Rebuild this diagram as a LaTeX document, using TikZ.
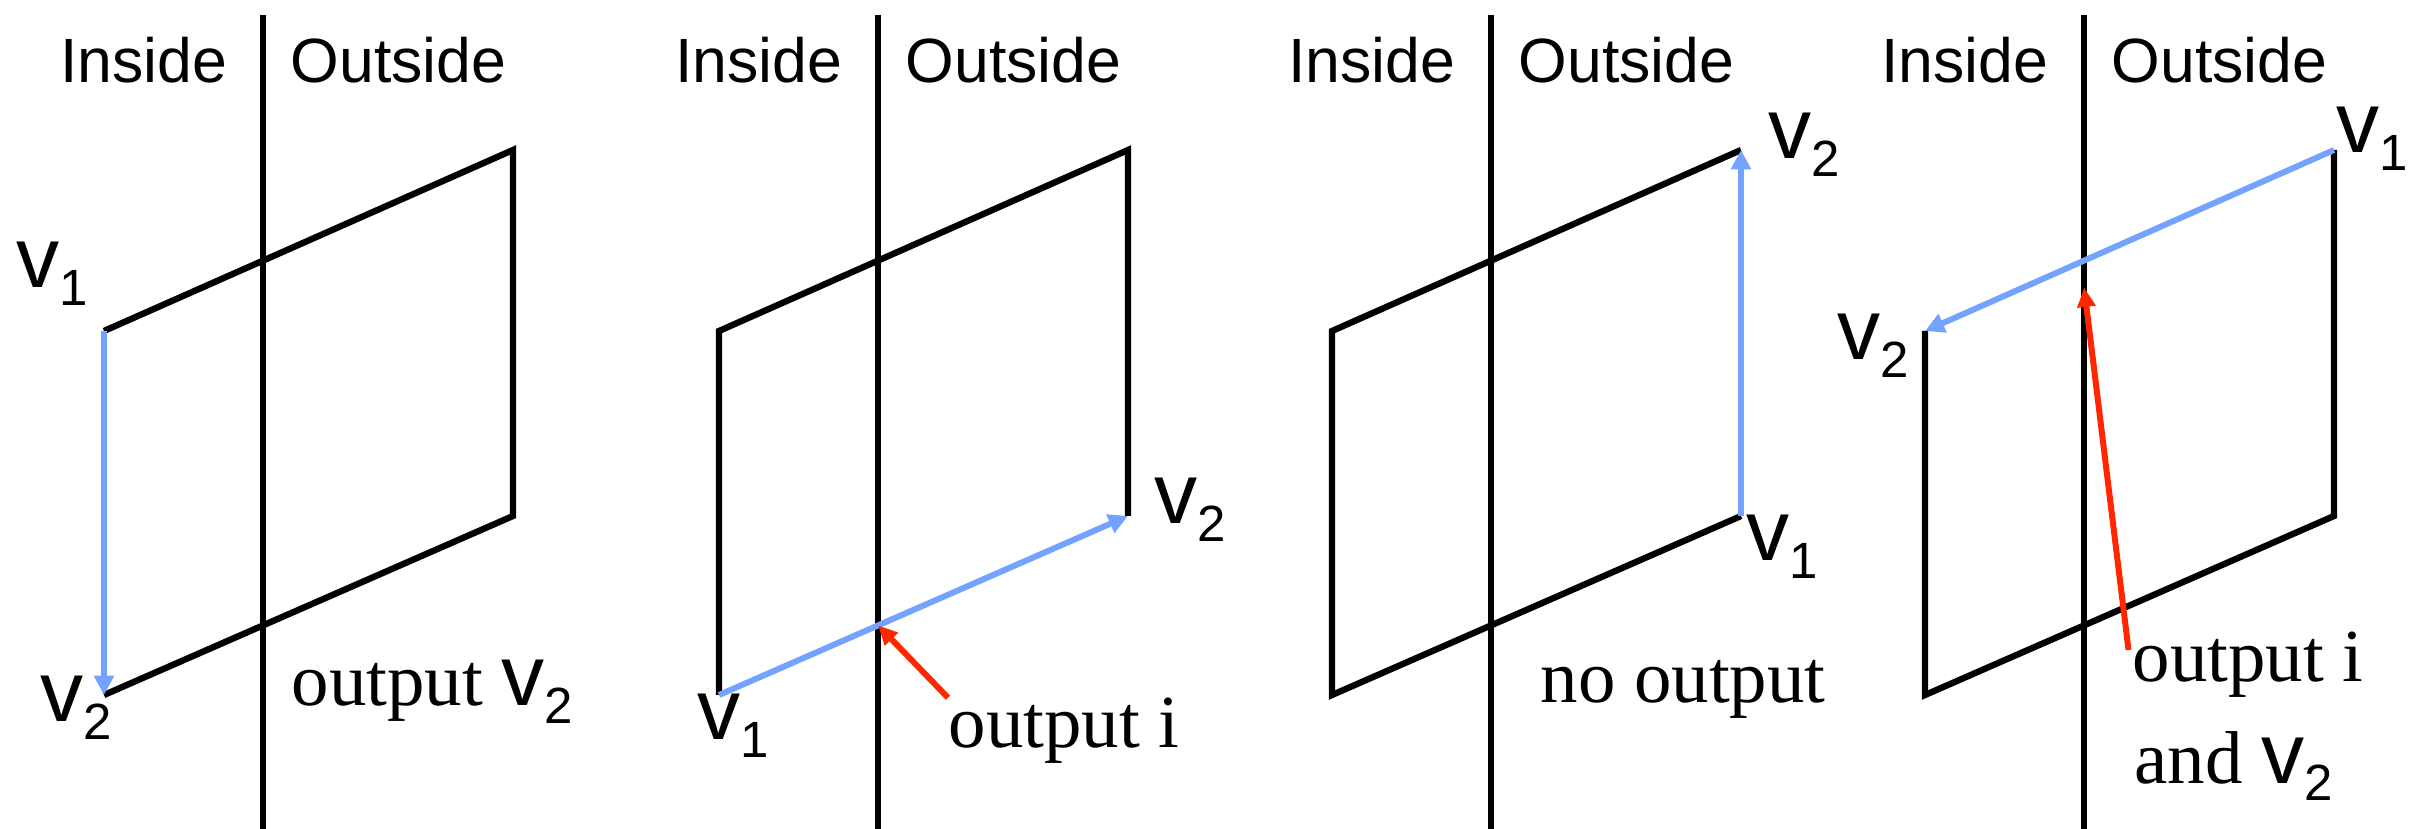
\documentclass[tikz,border=0pt]{standalone}
\usepackage{fontspec}
\setmainfont{Liberation Serif}
\setsansfont{Liberation Sans}
\usetikzlibrary{arrows.meta, calc}

\definecolor{walkblue}{RGB}{115,163,255}
\definecolor{hitred}{RGB}{255,38,0}

% vertex name with a lowered index
\newcommand{\vsub}[1]{v\raisebox{-5pt}{\fontsize{14.5}{14.5}\selectfont #1}}

\begin{document}
\begin{tikzpicture}[
    side/.style={
        inner sep=0pt, font=\sffamily\fontsize{17.8}{20}\selectfont
    },
    vlabel/.style={
        inner sep=0pt, anchor=base west, font=\sffamily\fontsize{24.5}{26}\selectfont
    },
    note/.style={
        inner sep=0pt, anchor=base west, font=\rmfamily\fontsize{21.3}{24}\selectfont
    },
    wall/.style={line width=1.8pt, draw=black},
    edge/.style={line width=1.8pt, draw=black},
    walk/.style={-{Triangle[length=5.5pt, width=5.5pt]}, line width=1.7pt, draw=walkblue},
    hit/.style={-{Triangle[length=5.5pt, width=5pt]}, line width=1.7pt, draw=hitred}
]
\useasboundingbox (0,0) rectangle (24.21,-8.29);

% Clip boundary, headings and polygon corners of the four cases
\foreach \d/\x in {a/2.63, b/8.78, c/14.91, d/20.84} {
    \coordinate (\d-top) at (\x,-0.15);
    \coordinate (\d-bot) at (\x,-8.29);
    \draw[wall] (\d-top) -- (\d-bot);
    \node[side, anchor=base east] (\d-in)  at (\x-0.35,-0.83) {Inside};
    \node[side, anchor=base west] (\d-out) at (\x+0.27,-0.83) {Outside};
    \coordinate (\d-tl) at (\x-1.59,-3.31);
    \coordinate (\d-tr) at (\x+2.50,-1.50);
    \coordinate (\d-br) at (\x+2.50,-5.16);
    \coordinate (\d-bl) at (\x-1.59,-6.95);
    \coordinate (\d-hi) at ($(\d-tl)!0.389!(\d-tr)$);
    \coordinate (\d-lo) at ($(\d-bl)!0.389!(\d-br)$);
}

% Case 1: inside -> inside
\draw[edge] (a-tl) -- (a-tr) -- (a-br) -- (a-bl);
\draw[walk] (a-tl) -- (a-bl);
\node[vlabel] (a-v1) at (0.16,-2.88) {\vsub{1}};
\node[vlabel] (a-v2) at (0.40,-7.22) {\vsub{2}};
\node[note] (a-note) at (2.91,-7.06) {output {\sffamily\fontsize{24.5}{26}\selectfont\vsub{2}}};

% Case 2: inside -> outside
\draw[edge] (b-bl) -- (b-tl) -- (b-tr) -- (b-br);
\draw[walk] (b-bl) -- (b-br);
\node[vlabel] (b-v1) at (6.97,-7.40) {\vsub{1}};
\node[vlabel] (b-v2) at (11.54,-5.235) {\vsub{2}};
\node[note] (b-note) at (9.48,-7.48) {output i};
\draw[hit] (b-note.north west) -- (b-lo);

% Case 3: outside -> outside
\draw[edge] (c-tr) -- (c-tl) -- (c-bl) -- (c-br);
\draw[walk] (c-br) -- (c-tr);
\node[vlabel] (c-v2) at (17.68,-1.586) {\vsub{2}};
\node[vlabel] (c-v1) at (17.46,-5.605) {\vsub{1}};
\node[note] (c-note) at (15.40,-7.03) {no output};

% Case 4: outside -> inside
\draw[edge] (d-tl) -- (d-bl) -- (d-br) -- (d-tr);
\draw[walk] (d-tr) -- (d-tl);
\node[vlabel] (d-v1) at (23.355,-1.53) {\vsub{1}};
\node[vlabel] (d-v2) at (18.37,-3.60) {\vsub{2}};
\node[note] (d-note) at (21.32,-6.82) {output i};
\node[note] (d-and)  at (21.34,-7.83) {and {\sffamily\fontsize{24.5}{26}\selectfont\vsub{2}}};
\coordinate (d-foot) at (21.285,-6.50);
\coordinate (d-aim)  at ($(d-hi)+(0,-0.27)$);
\draw[hit] (d-foot) -- (d-aim);

\end{tikzpicture}
\end{document}
